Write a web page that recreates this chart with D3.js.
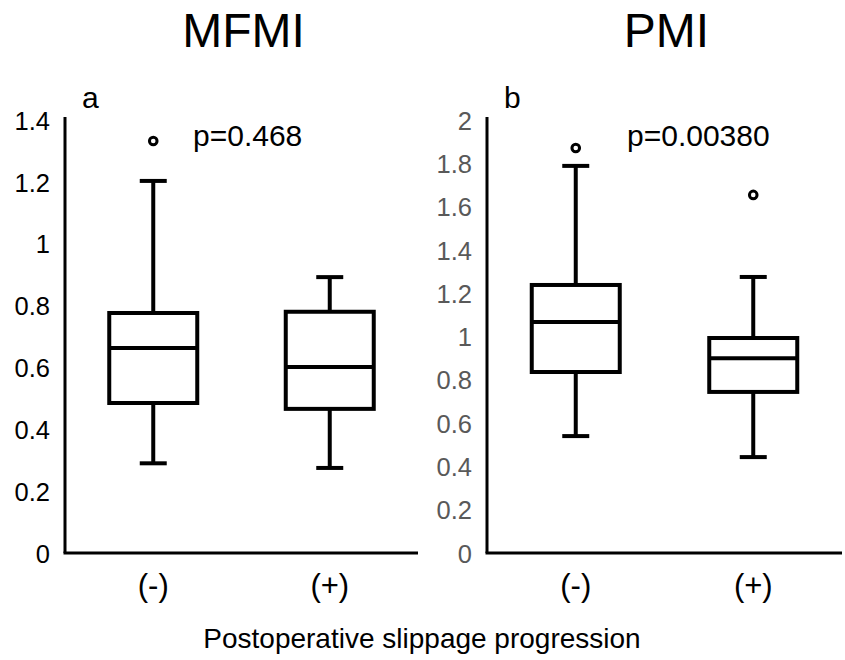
<!DOCTYPE html>
<html><head><meta charset="utf-8">
<script src="https://cdn.jsdelivr.net/npm/d3@7/dist/d3.min.js"></script>
<style>body{margin:0;background:#fff}svg{display:block}text{font-family:"Liberation Sans",Arial,sans-serif}</style>
</head><body><svg id="c" width="845" height="660"></svg>
<script>
const categories = ["(-)", "(+)"];
const panelTitles = ["MFMI", "PMI"];
const panelLetters = ["a", "b"];
const pValues = ["p=0.468", "p=0.00380"];
// box stats: [min, q1, median, q3, max]
const mfmiStats = [[0.29, 0.485, 0.663, 0.776, 1.203], [0.275, 0.466, 0.601, 0.78, 0.892]];
const mfmiOutliers = [[1.332], []];
const pmiStats = [[0.54, 0.836, 1.067, 1.238, 1.788], [0.443, 0.744, 0.90, 0.993, 1.275]];
const pmiOutliers = [[1.871], [1.654]];
const mfmiTicks = [0, 0.2, 0.4, 0.6, 0.8, 1, 1.2, 1.4];
const pmiTicks = [0, 0.2, 0.4, 0.6, 0.8, 1, 1.2, 1.4, 1.6, 1.8, 2];
const xTitle = "Postoperative slippage progression";

const svg = d3.select("#c");
const FF = '"Liberation Sans",Arial,sans-serif';
const panels = [
  {x0: 65, x1: 418, max: 1.4, ticks: mfmiTicks, stats: mfmiStats, out: mfmiOutliers, tickColor: "#000", title: panelTitles[0], letter: panelLetters[0], p: pValues[0], pX: 193},
  {x0: 487, x1: 842, max: 2, ticks: pmiTicks, stats: pmiStats, out: pmiOutliers, tickColor: "#595959", title: panelTitles[1], letter: panelLetters[1], p: pValues[1], pX: 627}
];
const yTop = 120, yBot = 553;
panels.forEach(P => {
  const g = svg.append("g");
  const x = d3.scaleBand().domain(categories).range([P.x0, P.x1]);
  const y = d3.scaleLinear().domain([0, P.max]).range([yBot, yTop]);
  // y axis
  const ya = g.append("g").attr("transform", `translate(${P.x0},0)`)
    .call(d3.axisLeft(y).tickValues(P.ticks).tickSize(0).tickPadding(15).tickFormat(d => d3.format("~g")(d)));
  ya.select(".domain").attr("stroke", "#000").attr("stroke-width", 3).attr("d", `M0,${yTop - 3}V${yBot}`);
  ya.selectAll("text").attr("font-size", 25.5).attr("fill", P.tickColor).attr("font-family", FF).attr("dy", "0.36em");
  // x axis
  const xa = g.append("g").attr("transform", `translate(0,${yBot})`)
    .call(d3.axisBottom(x).tickSize(0));
  xa.select(".domain").attr("stroke", "#000").attr("stroke-width", 3).attr("d", `M${P.x0 - 1.5},0H${P.x1}`);
  xa.selectAll("text").attr("font-size", 31).attr("fill", "#000").attr("font-family", FF).attr("y", 43).attr("dy", 0);
  // boxes
  const bw = 88, cw = 27;
  categories.forEach((c, i) => {
    const cx = x(c) + x.bandwidth() / 2;
    const [mn, q1, md, q3, mx] = P.stats[i];
    const bg = g.append("g").attr("stroke", "#000").attr("stroke-width", 4).attr("fill", "none");
    bg.append("line").attr("x1", cx).attr("x2", cx).attr("y1", y(q3)).attr("y2", y(mx));
    bg.append("line").attr("x1", cx).attr("x2", cx).attr("y1", y(q1)).attr("y2", y(mn));
    bg.append("line").attr("x1", cx - cw / 2).attr("x2", cx + cw / 2).attr("y1", y(mx)).attr("y2", y(mx));
    bg.append("line").attr("x1", cx - cw / 2).attr("x2", cx + cw / 2).attr("y1", y(mn)).attr("y2", y(mn));
    bg.append("rect").attr("x", cx - bw / 2).attr("width", bw).attr("y", y(q3)).attr("height", y(q1) - y(q3)).attr("fill", "#fff");
    bg.append("line").attr("x1", cx - bw / 2).attr("x2", cx + bw / 2).attr("y1", y(md)).attr("y2", y(md));
    P.out[i].forEach(o => {
      g.append("circle").attr("cx", cx).attr("cy", y(o)).attr("r", 3.8).attr("fill", "#fff").attr("stroke", "#000").attr("stroke-width", 3);
    });
  });
  // texts
  const mid = (P.x0 + P.x1) / 2;
  g.append("text").attr("x", mid + 2).attr("y", 47).attr("text-anchor", "middle").attr("font-size", 48).text(P.title);
  g.append("text").attr("x", P.x0 + 17).attr("y", 108).attr("font-size", 30).text(P.letter);
  g.append("text").attr("x", P.pX).attr("y", 146).attr("font-size", 30).text(P.p);
});
svg.append("text").attr("x", 422).attr("y", 648).attr("text-anchor", "middle").attr("font-size", 28).text(xTitle);
</script></body></html>
